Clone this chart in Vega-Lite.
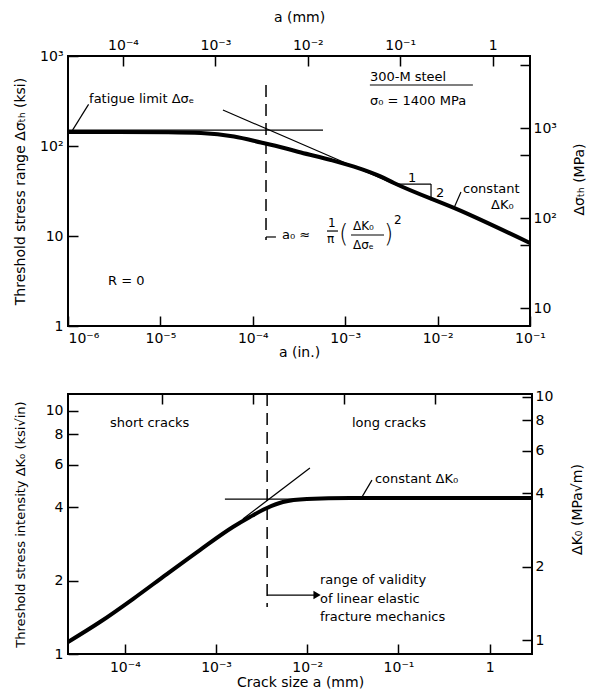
{
  "$schema": "https://vega.github.io/schema/vega-lite/v6.json",
  "padding": {"left": 12, "top": 9, "right": 0, "bottom": 0},
  "spacing": 28,
  "config": {
    "font": "DejaVu Sans",
    "view": {"stroke": "black", "strokeWidth": 2},
    "axis": {"grid": false, "domain": false, "tickColor": "black", "tickWidth": 1.5, "tickSize": -10, "labelColor": "black", "titleColor": "black", "labelFontSize": 14, "titleFontSize": 14, "titleFontWeight": "normal", "labelFlush": false, "labelOverlap": false, "labelFont": "DejaVu Sans", "titleFont": "DejaVu Sans"}
  },
  "datasets": {
    "topCurve": [
      {"a": 1e-6, "v": 143.1}, {"a": 3.48e-6, "v": 143}, {"a": 1.208e-5, "v": 142}, {"a": 2.75e-5, "v": 139.4},
      {"a": 6.26e-5, "v": 127.5}, {"a": 1.227e-4, "v": 109.3}, {"a": 2.18e-4, "v": 95.0}, {"a": 3.32e-4, "v": 84.7},
      {"a": 7.02e-4, "v": 69.9}, {"a": 1.245e-3, "v": 58.9}, {"a": 2.44e-3, "v": 45.6}, {"a": 3.37e-3, "v": 38.8},
      {"a": 0.0179, "v": 19.0}, {"a": 0.1, "v": 8.36}
    ],
    "topSeg": [
      {"a": 1e-6, "v": 150, "a2": 5.75e-4, "v2": 150},
      {"a": 4.75e-5, "v": 251, "a2": 4.02e-3, "v2": 35},
      {"a": 1.67e-6, "v": 290, "a2": 1.12e-6, "v2": 150},
      {"a": 3.55e-3, "v": 37.8, "a2": 8.49e-3, "v2": 37.8},
      {"a": 8.49e-3, "v": 37.8, "a2": 8.49e-3, "v2": 25},
      {"a": 0.0179, "v": 30.8, "a2": 0.01503, "v2": 20.5},
      {"a": 1.85e-3, "v": 476, "a2": 0.0241, "v2": 476},
      {"a": 1.39e-4, "v": 9.75, "a2": 1.78e-4, "v2": 9.75},
      {"a": 6.35e-4, "v": 11.36, "a2": 8.35e-4, "v2": 11.36},
      {"a": 1.156e-3, "v": 10.26, "a2": 2.63e-3, "v2": 10.26}
    ],
    "topDash": [{"a": 1.39e-4, "v": 476, "a2": 1.39e-4, "v2": 9.0}],
    "topText": [
      {"a": 1.69e-6, "v": 333, "t": "fatigue limit Δσₑ"},
      {"a": 1.85e-3, "v": 584, "t": "300-M steel"},
      {"a": 1.85e-3, "v": 316, "t": "σ₀ = 1400 MPa"},
      {"a": 0.01884, "v": 33.3, "t": "constant"},
      {"a": 0.0379, "v": 22.1, "t": "ΔK₀"},
      {"a": 9.6e-3, "v": 30.0, "t": "2"},
      {"a": 4.78e-3, "v": 44.1, "t": "1"},
      {"a": 2.71e-6, "v": 3.16, "t": "R = 0"},
      {"a": 2.07e-4, "v": 10.26, "t": "a₀ ≈"}
    ],
    "topSmall": [
      {"a": 6.52e-4, "v": 13.9, "t": "1"},
      {"a": 6.35e-4, "v": 9.26, "t": "π"},
      {"a": 1.213e-3, "v": 12.9, "t": "ΔK₀"},
      {"a": 1.213e-3, "v": 7.94, "t": "Δσₑ"},
      {"a": 3.37e-3, "v": 15.06, "t": "2"}
    ],
    "topParen": [
      {"a": 8.57e-4, "v": 10.26, "t": "("},
      {"a": 2.63e-3, "v": 10.26, "t": ")"}
    ],
    "botCurve": [
      {"a": 2.38e-5, "v": 1.12}, {"a": 5.33e-5, "v": 1.353}, {"a": 1.225e-4, "v": 1.682}, {"a": 2.89e-4, "v": 2.131},
      {"a": 6.65e-4, "v": 2.674}, {"a": 1.53e-3, "v": 3.324}, {"a": 2.35e-3, "v": 3.653}, {"a": 3.61e-3, "v": 3.978},
      {"a": 5.41e-3, "v": 4.21}, {"a": 9.9e-3, "v": 4.33}, {"a": 0.0294, "v": 4.37}, {"a": 2.91, "v": 4.37}
    ],
    "botSeg": [
      {"a": 1.25e-3, "v": 4.33, "a2": 0.01377, "v2": 4.33},
      {"a": 1.97e-3, "v": 3.585, "a2": 0.01069, "v2": 5.81},
      {"a": 0.0512, "v": 5.18, "a2": 0.0397, "v2": 4.41},
      {"a": 3.63e-3, "v": 1.747, "a2": 0.0125, "v2": 1.747}
    ],
    "botDash": [{"a": 3.63e-3, "v": 11.7, "a2": 3.63e-3, "v2": 1.56}],
    "botArrow": [{"a": 0.0128, "v": 1.747}],
    "botText": [
      {"a": 6.86e-5, "v": 8.89, "t": "short  cracks"},
      {"a": 0.0309, "v": 8.89, "t": "long  cracks"},
      {"a": 0.0552, "v": 5.23, "t": "constant ΔK₀"},
      {"a": 0.01377, "v": 2.013, "t": "range of validity"},
      {"a": 0.01377, "v": 1.682, "t": "of linear elastic"},
      {"a": 0.01377, "v": 1.419, "t": "fracture mechanics"}
    ],
    "dummyTop": [{"a": 0.01, "v": 100}],
    "dummyBot": [{"a": 0.001, "v": 2}]
  },
  "vconcat": [
    {
      "width": 462,
      "height": 270,
      "layer": [
        {
          "layer": [
            {
              "data": {"name": "topCurve"},
              "mark": {"type": "line", "color": "black", "strokeWidth": 4, "interpolate": "monotone"},
              "encoding": {
                "x": {"field": "a", "type": "quantitative", "scale": {"type": "log", "domain": [1e-6, 0.1], "nice": false},
                  "axis": {"orient": "bottom", "values": [1e-6, 1e-5, 1e-4, 1e-3, 1e-2, 1e-1], "title": "a (in.)", "labelPadding": 15, "titlePadding": 0,
                    "labelAlign": {"condition": {"test": "datum.value < 2e-6", "value": "left"}, "value": "center"},
                    "labelExpr": "abs(log(datum.value)/LN10 - round(log(datum.value)/LN10)) > 0.01 ? '' : round(log(datum.value)/LN10) == 0 ? '1' : round(log(datum.value)/LN10) == 1 ? '10' : '10' + (datum.value < 1 ? '⁻' : '') + ['⁰','¹','²','³','⁴','⁵','⁶','⁷','⁸','⁹'][abs(round(log(datum.value)/LN10))]"}},
                "y": {"field": "v", "type": "quantitative", "scale": {"type": "log", "domain": [1, 1000], "nice": false},
                  "axis": {"orient": "left", "values": [1, 10, 100, 1000], "title": "Threshold stress range Δσₜₕ (ksi)", "labelPadding": 15, "titlePadding": 12,
                    "labelExpr": "abs(log(datum.value)/LN10 - round(log(datum.value)/LN10)) > 0.01 ? '' : round(log(datum.value)/LN10) == 0 ? '1' : round(log(datum.value)/LN10) == 1 ? '10' : '10' + (datum.value < 1 ? '⁻' : '') + ['⁰','¹','²','³','⁴','⁵','⁶','⁷','⁸','⁹'][abs(round(log(datum.value)/LN10))]"}}
              }
            },
            {
              "data": {"name": "topSeg"},
              "mark": {"type": "rule", "color": "black", "strokeWidth": 1.2},
              "encoding": {
                "x": {"field": "a", "type": "quantitative", "scale": {"type": "log"}},
                "x2": {"field": "a2"},
                "y": {"field": "v", "type": "quantitative", "scale": {"type": "log"}},
                "y2": {"field": "v2"}
              }
            },
            {
              "data": {"name": "topDash"},
              "mark": {"type": "rule", "color": "black", "strokeWidth": 1.5, "strokeDash": [12, 7]},
              "encoding": {
                "x": {"field": "a", "type": "quantitative", "scale": {"type": "log"}},
                "x2": {"field": "a2"},
                "y": {"field": "v", "type": "quantitative", "scale": {"type": "log"}},
                "y2": {"field": "v2"}
              }
            },
            {
              "data": {"name": "topText"},
              "mark": {"type": "text", "align": "left", "baseline": "middle", "fontSize": 13, "color": "black"},
              "encoding": {
                "x": {"field": "a", "type": "quantitative", "scale": {"type": "log"}},
                "y": {"field": "v", "type": "quantitative", "scale": {"type": "log"}},
                "text": {"field": "t"}
              }
            },
            {
              "data": {"name": "topSmall"},
              "mark": {"type": "text", "align": "left", "baseline": "middle", "fontSize": 12, "color": "black"},
              "encoding": {
                "x": {"field": "a", "type": "quantitative", "scale": {"type": "log"}},
                "y": {"field": "v", "type": "quantitative", "scale": {"type": "log"}},
                "text": {"field": "t"}
              }
            },
            {
              "data": {"name": "topParen"},
              "mark": {"type": "text", "align": "left", "baseline": "middle", "fontSize": 24, "fontWeight": 200, "color": "black"},
              "encoding": {
                "x": {"field": "a", "type": "quantitative", "scale": {"type": "log"}},
                "y": {"field": "v", "type": "quantitative", "scale": {"type": "log"}},
                "text": {"field": "t"}
              }
            }
          ]
        },
        {
          "data": {"name": "dummyTop"},
          "mark": {"type": "point", "opacity": 0},
          "encoding": {
            "x": {"field": "a", "type": "quantitative", "scale": {"type": "log", "domain": [2.54e-5, 2.54], "nice": false},
              "axis": {"orient": "top", "values": [1e-4, 1e-3, 1e-2, 1e-1, 1], "title": "a (mm)", "labelPadding": 14, "titlePadding": 14,
                "labelExpr": "abs(log(datum.value)/LN10 - round(log(datum.value)/LN10)) > 0.01 ? '' : round(log(datum.value)/LN10) == 0 ? '1' : round(log(datum.value)/LN10) == 1 ? '10' : '10' + (datum.value < 1 ? '⁻' : '') + ['⁰','¹','²','³','⁴','⁵','⁶','⁷','⁸','⁹'][abs(round(log(datum.value)/LN10))]"}},
            "y": {"field": "v", "type": "quantitative", "scale": {"type": "log", "domain": [6.31, 6310], "nice": false},
              "axis": {"orient": "right", "values": [10, 50, 100, 500, 1000, 5000], "title": "Δσₜₕ (MPa)", "titleAngle": 270, "titleBaseline": "top", "titleY": 123, "labelPadding": 13, "titlePadding": 16,
                "labelExpr": "abs(log(datum.value)/LN10 - round(log(datum.value)/LN10)) > 0.01 ? '' : round(log(datum.value)/LN10) == 0 ? '1' : round(log(datum.value)/LN10) == 1 ? '10' : '10' + (datum.value < 1 ? '⁻' : '') + ['⁰','¹','²','³','⁴','⁵','⁶','⁷','⁸','⁹'][abs(round(log(datum.value)/LN10))]"}}
          }
        }
      ],
      "resolve": {"scale": {"x": "independent", "y": "independent"}}
    },
    {
      "width": 464,
      "height": 260,
      "layer": [
        {
          "layer": [
            {
              "data": {"name": "botCurve"},
              "mark": {"type": "line", "color": "black", "strokeWidth": 4, "interpolate": "monotone"},
              "encoding": {
                "x": {"field": "a", "type": "quantitative", "scale": {"type": "log", "domain": [2.38e-5, 2.91], "nice": false},
                  "axis": {"orient": "bottom", "values": [1e-4, 1e-3, 1e-2, 1e-1, 1], "title": "Crack size a (mm)", "labelPadding": 16, "titlePadding": 1,
                    "labelExpr": "abs(log(datum.value)/LN10 - round(log(datum.value)/LN10)) > 0.01 ? '' : round(log(datum.value)/LN10) == 0 ? '1' : round(log(datum.value)/LN10) == 1 ? '10' : '10' + (datum.value < 1 ? '⁻' : '') + ['⁰','¹','²','³','⁴','⁵','⁶','⁷','⁸','⁹'][abs(round(log(datum.value)/LN10))]"}},
                "y": {"field": "v", "type": "quantitative", "scale": {"type": "log", "domain": [1, 11.7], "nice": false},
                  "axis": {"orient": "left", "values": [1, 2, 4, 6, 8, 10], "format": "~g", "title": "Threshold stress intensity ΔK₀ (ksi√in)", "titleFontSize": 13, "labelPadding": 15, "titlePadding": 18}}
              }
            },
            {
              "data": {"name": "botSeg"},
              "mark": {"type": "rule", "color": "black", "strokeWidth": 1.2},
              "encoding": {
                "x": {"field": "a", "type": "quantitative", "scale": {"type": "log"}},
                "x2": {"field": "a2"},
                "y": {"field": "v", "type": "quantitative", "scale": {"type": "log"}},
                "y2": {"field": "v2"}
              }
            },
            {
              "data": {"name": "botDash"},
              "mark": {"type": "rule", "color": "black", "strokeWidth": 1.5, "strokeDash": [12, 7]},
              "encoding": {
                "x": {"field": "a", "type": "quantitative", "scale": {"type": "log"}},
                "x2": {"field": "a2"},
                "y": {"field": "v", "type": "quantitative", "scale": {"type": "log"}},
                "y2": {"field": "v2"}
              }
            },
            {
              "data": {"name": "botArrow"},
              "mark": {"type": "point", "shape": "triangle-right", "filled": true, "color": "black", "opacity": 1, "size": 70},
              "encoding": {
                "x": {"field": "a", "type": "quantitative", "scale": {"type": "log"}},
                "y": {"field": "v", "type": "quantitative", "scale": {"type": "log"}}
              }
            },
            {
              "data": {"name": "botText"},
              "mark": {"type": "text", "align": "left", "baseline": "middle", "fontSize": 13, "color": "black"},
              "encoding": {
                "x": {"field": "a", "type": "quantitative", "scale": {"type": "log"}},
                "y": {"field": "v", "type": "quantitative", "scale": {"type": "log"}},
                "text": {"field": "t"}
              }
            }
          ]
        },
        {
          "data": {"name": "dummyBot"},
          "mark": {"type": "point", "opacity": 0},
          "encoding": {
            "x": {"field": "a", "type": "quantitative", "scale": {"type": "log", "domain": [9.37e-7, 0.1146], "nice": false},
              "axis": {"orient": "top", "values": [1e-5, 1e-4, 1e-3, 1e-2], "labels": false, "title": null}},
            "y": {"field": "v", "type": "quantitative", "scale": {"type": "log", "domain": [0.876, 10.25], "nice": false},
              "axis": {"orient": "right", "values": [1, 2, 4, 6, 8, 10], "format": "~g", "title": "ΔK₀ (MPa√m)", "titleAngle": 270, "titleBaseline": "top", "titleY": 115, "labelPadding": 13, "titlePadding": 18}}
          }
        }
      ],
      "resolve": {"scale": {"x": "independent", "y": "independent"}}
    }
  ]
}
